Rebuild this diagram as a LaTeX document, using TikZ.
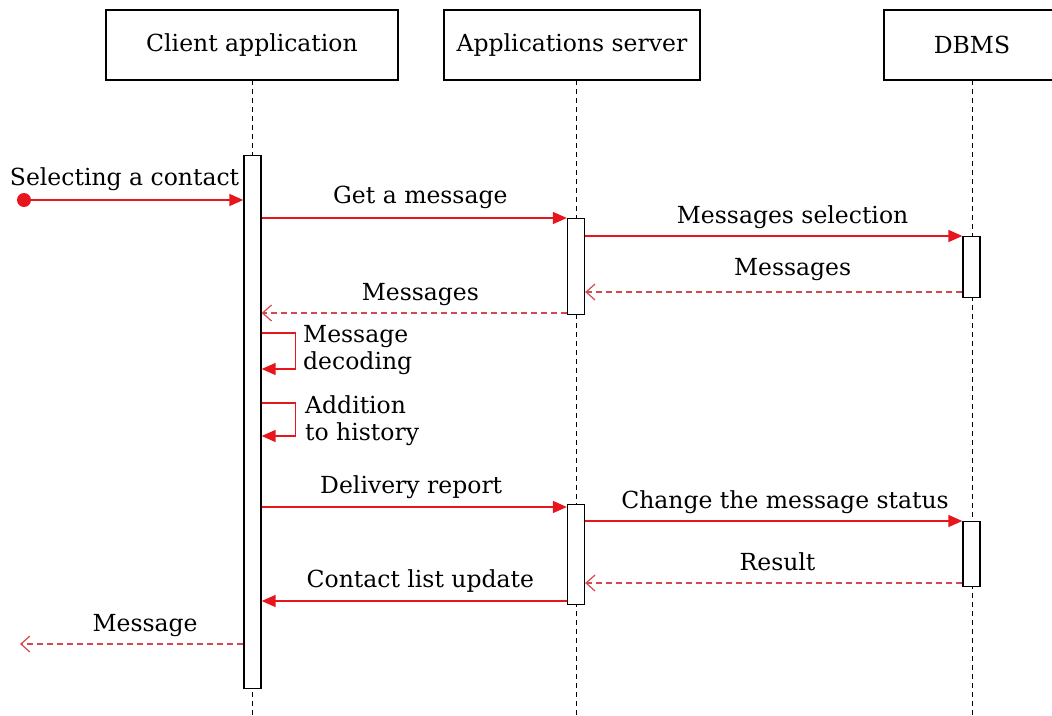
\documentclass[tikz,border=0pt]{standalone}
\usepackage{fontspec}
\setmainfont{DejaVu Serif}
\usetikzlibrary{arrows.meta}
\definecolor{msgred}{RGB}{230,22,28}
\definecolor{retred}{RGB}{214,72,80}

\begin{document}
\begin{tikzpicture}[x=1pt,y=-1pt,
  every node/.style={font=\fontsize{23.5}{27}\selectfont},
  head/.style={draw, line width=1.3pt, minimum height=70pt, inner sep=0pt},
  life/.style={line width=1pt, dash pattern=on 5pt off 4pt},
  bar/.style={draw, fill=white, line width=1.3pt, minimum width=17pt, inner sep=0pt, anchor=north},
  call/.style={draw=msgred, line width=1.6pt, -{Triangle[length=14pt,width=12pt]}},
  ret/.style={draw=retred, line width=1.2pt, dash pattern=on 6pt off 4pt, -{Straight Barb[length=9pt,width=16pt]}},
  lbl/.style={anchor=base, inner sep=0pt},
  note/.style={anchor=north west, align=left, inner sep=0pt},
]
\useasboundingbox (0,0) rectangle (1052,715);

% object heads
\node[head, minimum width=292pt] (client) at (252,45) {Client application};
\node[head, minimum width=256pt] (server) at (572,45) {Applications server};
\node[head, minimum width=176pt] (dbms)   at (972,45) {DBMS};

% lifelines
\coordinate (cl) at (252.5,80);  \coordinate (cle) at (252.5,715);
\coordinate (sl) at (576,80);    \coordinate (sle) at (576,715);
\coordinate (dl) at (972,80);    \coordinate (dle) at (972,715);
\draw[life] (cl) -- (cle);
\draw[life] (sl) -- (sle);
\draw[life] (dl) -- (dle);

% activation bars
\node[bar, minimum height=533pt] (ca)  at (252.5,155) {};
\node[bar, minimum height=96pt]  (sa1) at (576,218) {};
\node[bar, minimum height=61pt]  (da1) at (971.5,236) {};
\node[bar, minimum height=100pt] (sa2) at (576,504) {};
\node[bar, minimum height=65pt]  (da2) at (971.5,521) {};

% incoming event
\node[circle, fill=msgred, inner sep=0pt, minimum size=14pt] (start) at (24,200) {};
\draw[call] (start) -- (ca.west |- start)
  node[lbl, pos=0.44, yshift=15pt] {Selecting a contact};

% messages
\draw[call] (ca.east |- 0,218) -- (sa1.west |- 0,218)
  node[lbl, pos=0.52, yshift=15pt] {Get a message};
\draw[call] (sa1.east |- 0,236) -- (da1.west |- 0,236)
  node[lbl, pos=0.55, yshift=13pt] {Messages selection};
\draw[ret] (da1.west |- 0,292) -- (sa1.east |- 0,292)
  node[lbl, pos=0.45, yshift=17pt] {Messages};
\draw[ret] (sa1.west |- 0,313) -- (ca.east |- 0,313)
  node[lbl, pos=0.48, yshift=13pt] {Messages};

% self calls
\draw[call] (ca.east |- 0,333) -- ++(34,0) |- (ca.east |- 0,369);
\node[note] (dec) at (303,325) {Message\\decoding};
\draw[call] (ca.east |- 0,403) -- ++(34,0) |- (ca.east |- 0,436);
\node[note] (hist) at (305,395) {Addition\\to history};

\draw[call] (ca.east |- 0,507) -- (sa2.west |- 0,507)
  node[lbl, pos=0.49, yshift=14pt] {Delivery report};
\draw[call] (sa2.east |- 0,521) -- (da2.west |- 0,521)
  node[lbl, pos=0.53, yshift=13pt] {Change the message status};
\draw[ret] (da2.west |- 0,583) -- (sa2.east |- 0,583)
  node[lbl, pos=0.49, yshift=13pt] {Result};
\draw[call] (sa2.west |- 0,601) -- (ca.east |- 0,601)
  node[lbl, pos=0.48, yshift=14pt] {Contact list update};

% outgoing event
\coordinate (out) at (20,644);
\draw[ret] (ca.west |- out) -- (out)
  node[lbl, pos=0.44, yshift=13pt] {Message};
\end{tikzpicture}
\end{document}
